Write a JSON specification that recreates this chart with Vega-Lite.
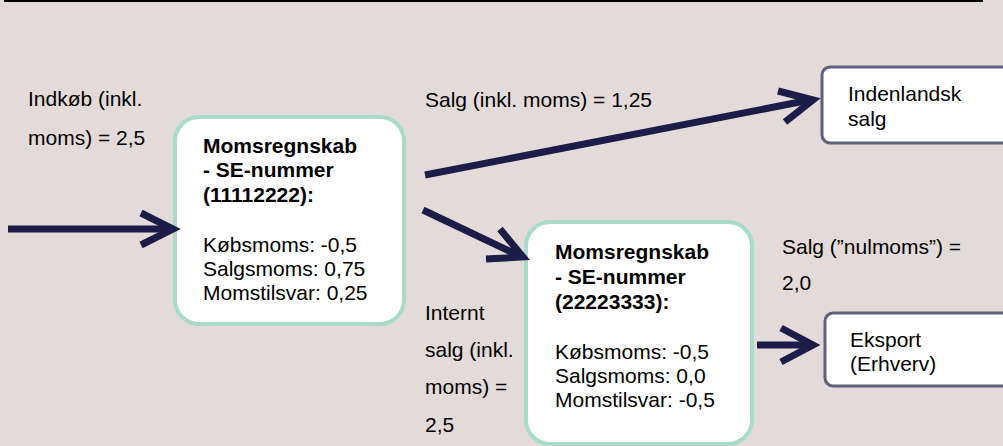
{
  "$schema": "https://vega.github.io/schema/vega-lite/v6.json",
  "width": 1003,
  "height": 446,
  "padding": 0,
  "autosize": {"type": "none"},
  "background": "#e3dbd9",
  "config": {"view": {"stroke": null}},
  "datasets": {
    "frame": [{"x": 4, "x2": 983, "y": 1, "y2": 1}],
    "boxes": [
      {"box": "SE 11112222", "kind": "konto", "x": 175, "x2": 404, "y": 117, "y2": 324},
      {"box": "SE 22223333", "kind": "konto", "x": 526, "x2": 752, "y": 222, "y2": 444},
      {"box": "Indenlandsk salg", "kind": "modtager", "x": 822, "x2": 1012, "y": 67, "y2": 143},
      {"box": "Eksport", "kind": "modtager", "x": 825, "x2": 1012, "y": 313, "y2": 386}
    ],
    "shafts": [
      {"arrow": "indkøb", "x": 8, "y": 229, "x2": 171, "y2": 229},
      {"arrow": "salg", "x": 425, "y": 175, "x2": 810, "y2": 100},
      {"arrow": "internt", "x": 423, "y": 210, "x2": 520, "y2": 256},
      {"arrow": "eksport", "x": 757, "y": 345, "x2": 810, "y2": 345}
    ],
    "heads": [
      {"arrow": "indkøb", "p": 1, "x": 141, "y": 213},
      {"arrow": "indkøb", "p": 2, "x": 173, "y": 229},
      {"arrow": "indkøb", "p": 3, "x": 141, "y": 245},
      {"arrow": "salg", "p": 1, "x": 778, "y": 91},
      {"arrow": "salg", "p": 2, "x": 813, "y": 100},
      {"arrow": "salg", "p": 3, "x": 785, "y": 122},
      {"arrow": "internt", "p": 1, "x": 500, "y": 229},
      {"arrow": "internt", "p": 2, "x": 523, "y": 257},
      {"arrow": "internt", "p": 3, "x": 486, "y": 259},
      {"arrow": "eksport", "p": 1, "x": 781, "y": 328},
      {"arrow": "eksport", "p": 2, "x": 813, "y": 345},
      {"arrow": "eksport", "p": 3, "x": 781, "y": 362}
    ],
    "labels": [
      {"role": "tekst", "text": "Indkøb (inkl.", "x": 28, "y": 100},
      {"role": "tekst", "text": "moms) = 2,5", "x": 28, "y": 139},
      {"role": "tekst", "text": "Salg (inkl. moms) = 1,25", "x": 425, "y": 101},
      {"role": "tekst", "text": "Salg (”nulmoms”) =", "x": 782, "y": 248},
      {"role": "tekst", "text": "2,0", "x": 782, "y": 284},
      {"role": "tekst", "text": "Internt", "x": 425, "y": 314},
      {"role": "tekst", "text": "salg (inkl.", "x": 425, "y": 351},
      {"role": "tekst", "text": "moms) =", "x": 425, "y": 388},
      {"role": "tekst", "text": "2,5", "x": 425, "y": 426},
      {"role": "overskrift", "text": "Momsregnskab", "x": 203, "y": 147},
      {"role": "overskrift", "text": "- SE-nummer", "x": 203, "y": 171},
      {"role": "overskrift", "text": "(11112222):", "x": 203, "y": 196},
      {"role": "tekst", "text": "Købsmoms: -0,5", "x": 203, "y": 246},
      {"role": "tekst", "text": "Salgsmoms: 0,75", "x": 203, "y": 270},
      {"role": "tekst", "text": "Momstilsvar: 0,25", "x": 203, "y": 294},
      {"role": "overskrift", "text": "Momsregnskab", "x": 555, "y": 253},
      {"role": "overskrift", "text": "- SE-nummer", "x": 555, "y": 278},
      {"role": "overskrift", "text": "(22223333):", "x": 555, "y": 303},
      {"role": "tekst", "text": "Købsmoms: -0,5", "x": 555, "y": 353},
      {"role": "tekst", "text": "Salgsmoms: 0,0", "x": 555, "y": 377},
      {"role": "tekst", "text": "Momstilsvar: -0,5", "x": 555, "y": 401},
      {"role": "tekst", "text": "Indenlandsk", "x": 848, "y": 95},
      {"role": "tekst", "text": "salg", "x": 848, "y": 120},
      {"role": "tekst", "text": "Eksport", "x": 850, "y": 341},
      {"role": "tekst", "text": "(Erhverv)", "x": 850, "y": 365}
    ]
  },
  "encoding": {
    "x": {"field": "x", "type": "quantitative", "axis": null, "scale": {"domain": [0, 1003], "nice": false, "zero": false}},
    "y": {"field": "y", "type": "quantitative", "axis": null, "scale": {"domain": [0, 446], "nice": false, "zero": false, "reverse": true}}
  },
  "layer": [
    {
      "data": {"name": "frame"},
      "mark": {"type": "rule", "stroke": "#000000", "strokeWidth": 2},
      "encoding": {"x2": {"field": "x2"}, "y2": {"field": "y2"}}
    },
    {
      "data": {"name": "boxes"},
      "transform": [{"filter": "datum.kind === 'konto'"}],
      "mark": {"type": "rect", "fill": "#ffffff", "stroke": "#a8dbc9", "strokeWidth": 4, "cornerRadius": 24},
      "encoding": {"x2": {"field": "x2"}, "y2": {"field": "y2"}}
    },
    {
      "data": {"name": "boxes"},
      "transform": [{"filter": "datum.kind === 'modtager'"}],
      "mark": {"type": "rect", "fill": "#ffffff", "stroke": "#5f607a", "strokeWidth": 3, "cornerRadius": 8},
      "encoding": {"x2": {"field": "x2"}, "y2": {"field": "y2"}}
    },
    {
      "data": {"name": "shafts"},
      "mark": {"type": "rule", "stroke": "#1d1c48", "strokeWidth": 7, "strokeCap": "butt"},
      "encoding": {"x2": {"field": "x2"}, "y2": {"field": "y2"}}
    },
    {
      "data": {"name": "heads"},
      "mark": {"type": "line", "stroke": "#1d1c48", "strokeWidth": 7, "strokeCap": "butt", "strokeJoin": "miter"},
      "encoding": {"detail": {"field": "arrow"}, "order": {"field": "p", "type": "quantitative"}}
    },
    {
      "data": {"name": "labels"},
      "transform": [{"filter": "datum.role === 'tekst'"}],
      "mark": {"type": "text", "align": "left", "baseline": "middle", "font": "Liberation Sans", "fontSize": 21, "fill": "#000000"},
      "encoding": {"text": {"field": "text"}}
    },
    {
      "data": {"name": "labels"},
      "transform": [{"filter": "datum.role === 'overskrift'"}],
      "mark": {"type": "text", "align": "left", "baseline": "middle", "font": "Liberation Sans", "fontSize": 21, "fontWeight": "bold", "fill": "#000000"},
      "encoding": {"text": {"field": "text"}}
    }
  ]
}
